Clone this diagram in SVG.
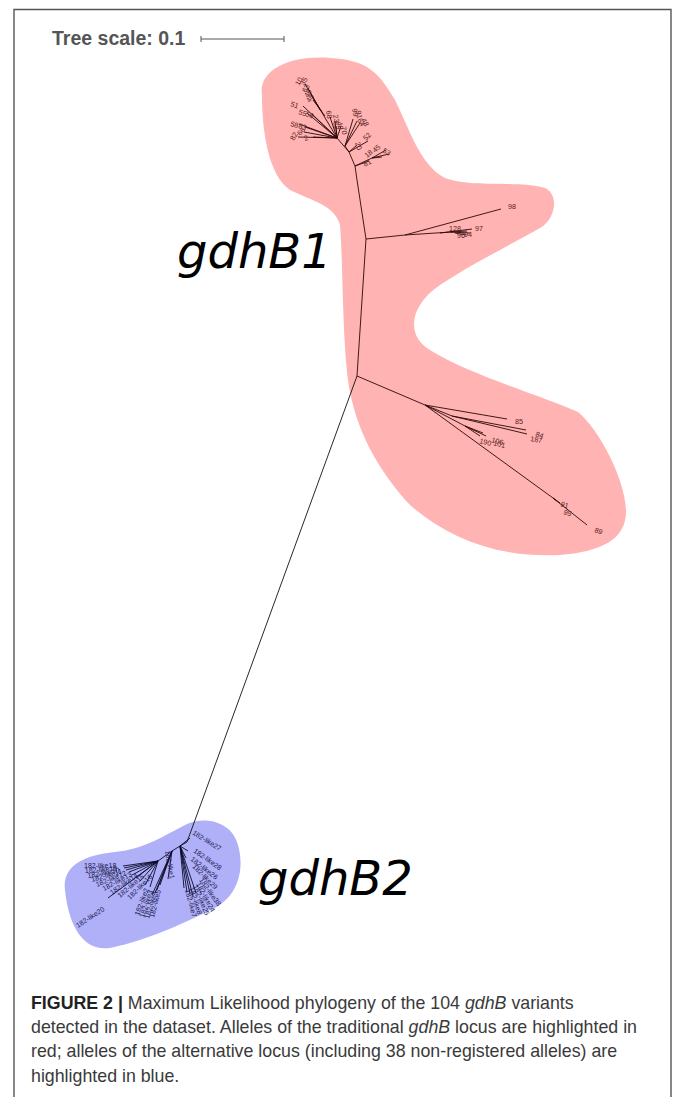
<svg xmlns="http://www.w3.org/2000/svg" width="673" height="1097" viewBox="0 0 673 1097">
<style>
.frame{fill:none;stroke:#555;stroke-width:1.4}
.scale{font-family:"Liberation Sans",Arial,sans-serif;font-weight:bold;font-size:19.5px;fill:#555}
.sbar{stroke:#555;stroke-width:1;fill:none}
.big{font-family:"DejaVu Sans",sans-serif;font-style:italic;font-size:48px;fill:#000}
.cap{font-family:"Liberation Sans",Arial,sans-serif;font-size:17.8px;fill:#3a3a3a}
.capb{font-weight:bold;fill:#222}
.rl{stroke:#2b0808;stroke-width:0.9;fill:none}
.bl{stroke:#0a0a2a;stroke-width:0.9;fill:none}
.rt{font-family:"Liberation Sans",Arial,sans-serif;font-size:7.2px;fill:#5a2222}
.bt{font-family:"Liberation Sans",Arial,sans-serif;font-size:7px;fill:#1a1a50}
.main{stroke:#111;stroke-width:0.9;fill:none}
</style>
<rect width="673" height="1097" fill="#fff"/>
<path class="frame" d="M14,1097 V9.5 H671 V1097"/>

<g id="scale">
<text class="scale" x="52" y="45">Tree scale: 0.1</text>
<path class="sbar" d="M201,39 H284 M201,36 V42 M284,36 V42"/>
</g>

<g id="clade-gdhB1">
<path fill="#ffb3b3" d="M262,95 C258,70 290,55 330,58 C370,60 380,75 395,100 C410,130 420,165 445,178 C470,188 520,180 545,188 C560,195 555,220 540,228 C510,245 470,265 440,285 C410,305 405,335 430,350 C470,375 540,395 578,412 C600,430 625,480 626,510 C627,540 600,552 560,555 C500,558 450,540 410,505 C378,470 355,430 348,380 C342,330 343,260 340,225 C335,205 310,200 290,190 C268,175 262,130 262,95 Z"/>
</g>
<g id="clade-gdhB2">
<path fill="#b0b0f8" d="M65,890 C62,865 85,855 115,852 C145,849 165,835 185,825 C205,815 232,822 238,845 C245,870 238,895 215,908 C190,920 150,940 110,948 C80,952 68,920 65,890 Z"/>
</g>

<g id="connectors">
<path class="main" d="M187,842 L357,376"/>
<path class="rl" d="M357,376 L366,239 L357,180 L355,166"/>
<path class="rl" d="M357,376 L425,405 M425,405 L507,419 M425,405 L452,416 L526,430 M452,416 L527,434 M425,405 L465,426 L483,433 M465,426 L480,436 M465,426 L486,436 M425,405 L553,498 L587,525 M553,498 L557,501 M553,498 L560,503"/>
<path class="rl" d="M366,239 L405,235 L501,209 M405,235 L467,231 M440,233 L472,229 M450,232 L470,233 M455,233 L466,235"/>
<path class="rl" d="M355,166 L372,158 M372,158 L386,150 M372,158 L389,154 M372,158 L382,157 M355,166 L369,161 M355,166 L349,152 M349,152 L357,145 M349,152 L368,141 M349,152 L345,146 L353,119 M345,146 L357,121 M345,146 L360,123 M349,152 L337,138 M337,138 L305,84 M320,110 L308,88 M322,112 L311,95 M325,116 L313,100 M337,138 L303,106 M337,138 L307,113 M337,138 L312,114 M337,138 L299,124 M337,138 L305,127 M337,138 L304,132 M337,138 L298,137 M337,138 L313,137 M337,138 L330,117 M337,138 L335,121 M337,138 L336,126 M337,138 L341,126"/>
<path class="bl" d="M187,842 L180,846 M180,846 L190,838 M180,846 L188,851 M180,846 L186,858 M180,846 L172,851 L158,861 L108,898 M158,861 L123,866 M158,861 L124,868 M158,861 L126,870 M158,861 L129,872 M158,861 L132,875 M158,861 L136,878 M158,861 L140,881 M158,861 L145,885 M158,861 L150,887 M172,851 L160,885 M172,851 L157,890 M172,851 L155,893 M172,851 L152,895 M172,851 L168,879 M180,846 L184,888 M180,846 L187,892 M180,846 L190,894 M180,846 L193,896 M180,846 L196,893"/>
</g>

<g id="labels-gdhB1">
<text class="rt" transform="translate(299,86) rotate(-60)">10</text>
<text class="rt" transform="translate(304,86) rotate(-60)">35</text>
<text class="rt" transform="translate(306,93) rotate(-60)">63</text>
<text class="rt" transform="translate(308,98) rotate(-60)">46</text>
<text class="rt" transform="translate(310,103) rotate(-60)">48</text>
<text class="rt" transform="translate(290,106) rotate(20)">51</text>
<text class="rt" transform="translate(298,114) rotate(20)">55</text>
<text class="rt" transform="translate(305,116) rotate(20)">56</text>
<text class="rt" transform="translate(290,126) rotate(15)">58</text>
<text class="rt" transform="translate(298,128) rotate(15)">83</text>
<text class="rt" transform="translate(300,136) rotate(-45)">66</text>
<text class="rt" transform="translate(294,141) rotate(-60)">82</text>
<text class="rt" transform="translate(305,141) rotate(-20)">2</text>
<text class="rt" transform="translate(326,111) rotate(80)">68</text>
<text class="rt" transform="translate(333,115) rotate(80)">23</text>
<text class="rt" transform="translate(333,122) rotate(80)">62</text>
<text class="rt" transform="translate(337,122) rotate(80)">40</text>
<text class="rt" transform="translate(341,127) rotate(80)">70</text>
<text class="rt" transform="translate(352,109) rotate(80)">99</text>
<text class="rt" transform="translate(356,111) rotate(80)">91</text>
<text class="rt" transform="translate(357,120) rotate(60)">64</text>
<text class="rt" transform="translate(361,120) rotate(60)">48</text>
<text class="rt" transform="translate(355,143) rotate(70)">20</text>
<text class="rt" transform="translate(366,141) rotate(-45)">52</text>
<text class="rt" transform="translate(367,158) rotate(-40)">18</text>
<text class="rt" transform="translate(375,153) rotate(-40)">45</text>
<text class="rt" transform="translate(382,152) rotate(30)">53</text>
<text class="rt" transform="translate(365,167) rotate(-30)">81</text>
<text class="rt" x="508" y="209">98</text>
<text class="rt" x="449" y="231">128</text>
<text class="rt" x="457" y="238">96</text>
<text class="rt" x="464" y="237">94</text>
<text class="rt" x="475" y="231">97</text>
<text class="rt" x="515" y="424">85</text>
<text class="rt" transform="translate(535,436) rotate(20)">84</text>
<text class="rt" transform="translate(530,441) rotate(10)">187</text>
<text class="rt" transform="translate(491,442) rotate(15)">106</text>
<text class="rt" transform="translate(479,443) rotate(15)">190</text>
<text class="rt" transform="translate(493,445) rotate(15)">101</text>
<text class="rt" transform="translate(560,506) rotate(20)">91</text>
<text class="rt" transform="translate(563,514) rotate(20)">95</text>
<text class="rt" transform="translate(594,532) rotate(20)">89</text>
</g>

<g id="labels-gdhB2">
<text class="bt" transform="translate(192,834) rotate(32)">182-like27</text>
<text class="bt" transform="translate(193,852) rotate(35)">182-like28</text>
<text class="bt" transform="translate(190,860) rotate(38)">182-like26</text>
<text class="bt" transform="translate(78,928) rotate(-33)">182-like20</text>
<text class="bt" x="84" y="868">182-like18</text>
<text class="bt" transform="translate(85,873) rotate(-4)">182-like19</text>
<text class="bt" transform="translate(88,878) rotate(-10)">182-like10</text>
<text class="bt" transform="translate(92,882) rotate(-16)">182-like11</text>
<text class="bt" transform="translate(97,887) rotate(-22)">182-like12</text>
<text class="bt" transform="translate(104,891) rotate(-28)">182-like13</text>
<text class="bt" transform="translate(112,895) rotate(-35)">182-like14</text>
<text class="bt" transform="translate(120,898) rotate(-40)">182-like15</text>
<text class="bt" transform="translate(130,900) rotate(-45)">182-like16</text>
<text class="bt" transform="translate(165,851) rotate(80)">182-like1</text>
<text class="bt" transform="translate(139,916) rotate(-70)">182-like2</text>
<text class="bt" transform="translate(144,918) rotate(-72)">182-like3</text>
<text class="bt" transform="translate(149,919) rotate(-74)">182-like4</text>
<text class="bt" transform="translate(154,918) rotate(-76)">182-like5</text>
<text class="bt" transform="translate(185,890) rotate(75)">182-like7</text>
<text class="bt" transform="translate(189,888) rotate(72)">182-like8</text>
<text class="bt" transform="translate(193,886) rotate(68)">182-like25</text>
<text class="bt" transform="translate(196,884) rotate(62)">182-like24</text>
<text class="bt" transform="translate(199,880) rotate(55)">182-like38</text>
<text class="bt" transform="translate(192,867) rotate(45)">182-like29</text>
</g>

<g id="clade-labels">
<text class="big" x="177" y="268">gdhB1</text>
<text class="big" x="258" y="895">gdhB2</text>
</g>

<g id="caption">
<text class="cap" x="31" y="1009"><tspan class="capb">FIGURE 2 |</tspan> Maximum Likelihood phylogeny of the 104 <tspan font-style="italic">gdhB</tspan> variants</text>
<text class="cap" x="31" y="1033">detected in the dataset. Alleles of the traditional <tspan font-style="italic">gdhB</tspan> locus are highlighted in</text>
<text class="cap" x="31" y="1057">red; alleles of the alternative locus (including 38 non-registered alleles) are</text>
<text class="cap" x="31" y="1082">highlighted in blue.</text>
</g>
</svg>
